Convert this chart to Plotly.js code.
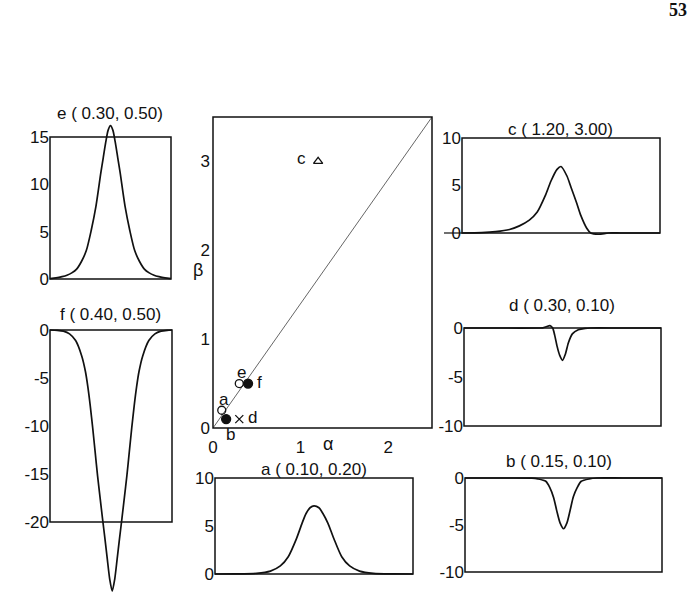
<!DOCTYPE html>
<html><head><meta charset="utf-8">
<script src="https://cdn.plot.ly/plotly-3.0.1.min.js"></script>
<style>html,body{margin:0;padding:0;background:#fff}#chart{width:690px;height:605px}</style>
</head><body><div id="chart"></div>
<script>
// ---------- data ----------
// parameter points (alpha, beta)
const ptNames = ['a','b','c','d','e','f'];
const ptAlpha = [0.10, 0.15, 1.20, 0.30, 0.30, 0.40];
const ptBeta  = [0.20, 0.10, 3.00, 0.10, 0.50, 0.50];
const diagAlpha = [0, 2.5];
const diagBeta  = [0, 3.5];

// profiles, x in percent of panel width
const e_x = [0,5,10,14,18,22,26,30,34,38,42,44,46,48,50,52,54,56,58,62,66,70,74,78,82,86,90,95,100];
const e_y = [0.05,0.12,0.25,0.4,0.65,1.05,1.85,3.0,5.1,7.7,11.2,12.8,14.4,15.7,16.2,15.7,14.4,12.8,11.2,7.7,5.1,3.0,1.85,1.05,0.65,0.4,0.25,0.12,0.05];

const f_x = [0,6,11,16,21,26,29,31,33,35,37,39,41,43,45,47,49,51,53,55,57,59,61,63,65,67,69,71,73,76,81,86,91,96,100];
const f_y = [0,-0.03,-0.12,-0.4,-1.1,-2.7,-4.3,-5.9,-7.9,-10.2,-12.7,-15.2,-17.4,-19.6,-21.7,-23.9,-26.0,-27.2,-26.0,-23.9,-21.7,-19.6,-17.4,-15.2,-12.7,-10.2,-7.9,-5.9,-4.3,-2.7,-1.1,-0.4,-0.12,-0.03,0];

const c_x = [0,10,17,24,29,34,38,42,45,48,50,53,55,58,60,63,65,69,74,80,90,100];
const c_y = [0,0.04,0.14,0.37,0.75,1.35,2.2,3.9,5.5,6.7,7.0,6.0,4.85,3.1,1.85,0.5,0.0,-0.13,0,0,0,0];

const d_x = [0,20,38,40,42,43.6,45,46,47.3,48.6,50,51.4,53,55,58,61.5,64,80,100];
const d_y = [0,0,0,0.02,0.15,0.24,0,-0.7,-1.9,-2.8,-3.3,-2.7,-1.5,-0.6,-0.17,-0.03,0,0,0];

const b_x = [0,20,34,37,41,43,45,46.6,48.3,50,51.7,53.4,55,57,59,63,67,80,100];
const b_y = [0,0,-0.02,-0.1,-0.35,-1.0,-2.1,-3.5,-4.8,-5.4,-4.8,-3.4,-2.0,-1.0,-0.35,-0.1,0,0,0];

const a_x = [0,10,21,28,33,37,41,44,46,48,50,52.5,54.5,57,60,64,68,73,80,90,100];
const a_y = [0,0.01,0.07,0.3,0.84,1.8,3.6,5.3,6.3,6.9,7.1,6.9,6.3,5.3,3.7,1.8,0.84,0.3,0.07,0.01,0];

const ticksPos15 = [0,5,10,15];
const ticksNeg20 = [0,-5,-10,-15,-20];
const ticksPos10 = [0,5,10];
const ticksNeg10 = [0,-5,-10];
const alphaTicks = [0,1,2];
const betaTicks  = [0,1,2,3];

// ---------- layout ----------
const W = 690, H = 605;
const fx = p => p / W;
const fy = p => 1 - p / H;
const INK = '#111';
const FONT = 'Liberation Sans, Arial, Helvetica, sans-serif';
const FS = 17;

function title(name){
  const i = ptNames.indexOf(name);
  return name + ' ( ' + ptAlpha[i].toFixed(2) + ', ' + ptBeta[i].toFixed(2) + ')';
}

const panels = [
  {name:'e', box:[50,171,137,279], lo:0,   hi:15, ticks:ticksPos15, extT:18, extB:4,  xs:e_x, ys:e_y, tpos:[110,114]},
  {name:'f', box:[50,172,330,522], lo:-20, hi:0,  ticks:ticksNeg20, extT:4,  extB:82, xs:f_x, ys:f_y, tpos:[111,314]},
  {name:'a', box:[215,413,478,574], lo:0,  hi:10, ticks:ticksPos10, extT:4,  extB:4,  xs:a_x, ys:a_y, tpos:[314,469]},
  {name:'c', box:[462,660,138,233], lo:0,  hi:10, ticks:ticksPos10, extT:4,  extB:4,  xs:c_x, ys:c_y, tpos:[560,129]},
  {name:'d', box:[464,661,328,426], lo:-10, hi:0, ticks:ticksNeg10, extT:4,  extB:4,  xs:d_x, ys:d_y, tpos:[562,305]},
  {name:'b', box:[465,662,478,572], lo:-10, hi:0, ticks:ticksNeg10, extT:4,  extB:4,  xs:b_x, ys:b_y, tpos:[559,461]}
];

const layout = {
  width: W, height: H,
  margin: {l:0, r:0, t:0, b:0},
  paper_bgcolor: '#fff', plot_bgcolor: 'rgba(0,0,0,0)',
  showlegend: false,
  font: {family: FONT, color: INK, size: FS},
  shapes: [], annotations: []
};
const traces = [];

panels.forEach((p, idx) => {
  const n = idx + 1;
  const sx = n === 1 ? '' : String(n);
  const [x0, x1, y0, y1] = p.box;
  const k = (p.hi - p.lo) / (y1 - y0);
  layout['xaxis' + sx] = {domain:[fx(x0), fx(x1)], range:[0,100], visible:false, fixedrange:true, anchor:'y'+sx};
  layout['yaxis' + sx] = {
    domain:[fy(y1 + p.extB), fy(y0 - p.extT)],
    range:[p.lo - p.extB * k, p.hi + p.extT * k],
    tickvals: p.ticks, ticktext: p.ticks.map(v => String(v)),
    ticks:'', showgrid:false, zeroline:false, showline:false, fixedrange:true,
    anchor:'x'+sx, tickfont:{size:FS, family:FONT, color:INK}
  };
  traces.push({x:p.xs, y:p.ys, xaxis:'x'+sx, yaxis:'y'+sx, mode:'lines', type:'scatter',
    line:{color:INK, width:1.7, shape:'spline', smoothing:0.7}, hoverinfo:'skip'});
  layout.shapes.push({type:'rect', xref:'paper', yref:'paper', x0:fx(x0), x1:fx(x1), y0:fy(y1), y1:fy(y0),
    line:{color:INK, width:1.5}});
  layout.annotations.push({xref:'paper', yref:'paper', x:fx(p.tpos[0]), y:fy(p.tpos[1]), text:title(p.name),
    showarrow:false, xanchor:'center', yanchor:'middle', font:{size:FS, family:FONT, color:INK}});
});

// extra baseline stub to the left of panel c (as in the scan)
layout.shapes.push({type:'line', xref:'paper', yref:'paper', x0:fx(444), x1:fx(462), y0:fy(233), y1:fy(233),
  line:{color:INK, width:1.2}});

// central alpha-beta panel
const CB = [213,432,117,428];
layout.xaxis7 = {domain:[fx(CB[0]), fx(CB[1])], range:[0,2.5], tickvals:alphaTicks, ticktext:alphaTicks.map(String),
  ticks:'', ticklabelstandoff:7, showgrid:false, zeroline:false, showline:false, fixedrange:true, anchor:'y7',
  tickfont:{size:FS, family:FONT, color:INK}};
layout.yaxis7 = {domain:[fy(CB[3]), fy(CB[2])], range:[0,3.5], tickvals:betaTicks, ticktext:betaTicks.map(String),
  ticks:'', ticklabelstandoff:2, showgrid:false, zeroline:false, showline:false, fixedrange:true, anchor:'x7',
  tickfont:{size:FS, family:FONT, color:INK}};
layout.shapes.push({type:'rect', xref:'paper', yref:'paper', x0:fx(CB[0]), x1:fx(CB[1]), y0:fy(CB[3]), y1:fy(CB[2]),
  line:{color:INK, width:1.5}});

traces.push({x:diagAlpha, y:diagBeta, xaxis:'x7', yaxis:'y7', mode:'lines', type:'scatter',
  line:{color:'#555', width:0.9}, hoverinfo:'skip'});

const symbols = {a:'circle-open', b:'circle', c:'triangle-up-open', d:'x-thin-open', e:'circle-open', f:'circle'};
const sizes   = {a:8, b:9, c:8, d:8, e:8, f:9};
ptNames.forEach((nm, i) => {
  traces.push({x:[ptAlpha[i]], y:[ptBeta[i]], xaxis:'x7', yaxis:'y7', mode:'markers', type:'scatter', cliponaxis:false,
    marker:{symbol:symbols[nm], size:sizes[nm], color:INK, line:{color:INK, width:1.3}}, hoverinfo:'skip'});
});
const labShift = {a:[2,11], b:[4,-15], c:[-17,3], d:[13,2], e:[2,11], f:[11,1]};
ptNames.forEach((nm, i) => {
  layout.annotations.push({xref:'x7', yref:'y7', x:ptAlpha[i], y:ptBeta[i], text:nm, showarrow:false,
    xshift:labShift[nm][0], yshift:labShift[nm][1], xanchor:'center', yanchor:'middle',
    font:{size:FS, family:FONT, color:INK}});
});
layout.annotations.push({xref:'paper', yref:'paper', x:fx(328), y:fy(444), text:'α', showarrow:false,
  xanchor:'center', yanchor:'middle', font:{size:18, family:FONT, color:INK}});
layout.annotations.push({xref:'paper', yref:'paper', x:fx(198), y:fy(270), text:'β', showarrow:false,
  xanchor:'center', yanchor:'middle', font:{size:18, family:FONT, color:INK}});
// page number
layout.annotations.push({xref:'paper', yref:'paper', x:fx(689), y:fy(10), text:'<b>53</b>', showarrow:false,
  xanchor:'right', yanchor:'middle', font:{size:18, family:'Liberation Serif, DejaVu Serif, serif', color:INK}});

Plotly.newPlot('chart', traces, layout, {displayModeBar:false, staticPlot:true});
</script></body></html>
